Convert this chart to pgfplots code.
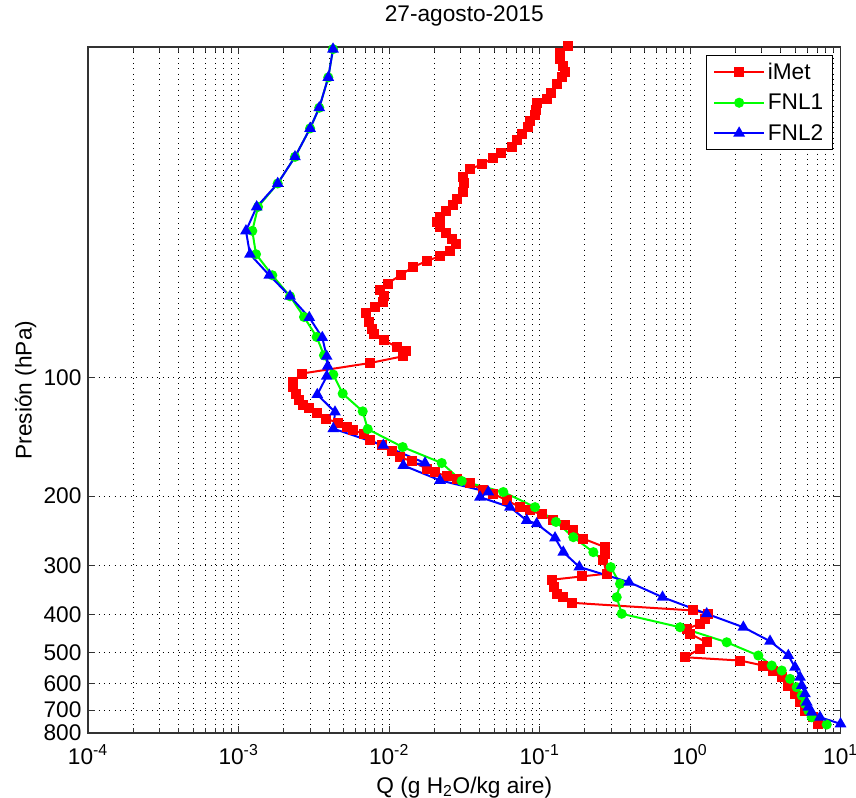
\documentclass[border=0pt]{standalone}
\usepackage{fontspec}
\setmainfont{Liberation Sans}
\usepackage{pgfplots}
\pgfplotsset{compat=1.18}
\usepackage{pgfplotstable}

% Specific humidity Q (g H2O / kg air) against pressure (hPa)
\pgfplotstableread{
q p
0.1554 14.34
0.1368 14.91
0.1368 15.50
0.1426 16.12
0.1477 16.67
0.1404 17.23
0.1301 17.91
0.1187 18.85
0.1116 19.60
0.09670 20.06
0.09478 20.86
0.09335 21.48
0.08648 22.25
0.08426 23.09
0.07614 24.06
0.07055 24.87
0.06536 25.86
0.05548 26.89
0.04887 27.69
0.04129 28.63
0.03453 29.53
0.03116 30.84
0.03150 32.06
0.03116 33.67
0.02818 35.21
0.02650 36.40
0.02392 37.64
0.02183 38.97
0.02094 40.14
0.02183 41.47
0.02392 42.96
0.02610 44.50
0.02788 45.74
0.02543 47.58
0.02183 49.07
0.01797 50.39
0.01450 52.26
0.01201 54.70
0.00980 57.59
0.008714 59.66
0.009264 62.04
0.009165 64.15
0.008072 66.05
0.007034 68.42
0.007398 72.11
0.007674 74.96
0.007950 77.50
0.009264 80.29
0.01125 83.49
0.01297 85.47
0.01233 88.19
0.007478 91.70
0.002630 97.56
0.002292 102.5
0.002313 105.5
0.002410 109.7
0.002535 114.1
0.002696 117.5
0.002954 119.1
0.003308 122.9
0.003815 127.0
0.004605 130.3
0.005236 133.4
0.005738 135.5
0.006823 139.2
0.007478 144.2
0.008944 148.5
0.01042 153.6
0.01183 159.4
0.01415 162.8
0.01780 170.2
0.02021 173.7
0.02417 178.1
0.02818 180.5
0.03453 185.2
0.04233 193.3
0.04932 197.1
0.06054 205.0
0.07420 213.2
0.08648 217.4
0.1034 222.5
0.1235 230.5
0.1477 237.3
0.1677 244.3
0.1954 256.5
0.2724 269.5
0.2724 280.1
0.2654 291.3
0.2796 314.9
0.1907 319.9
0.1205 326.2
0.1249 340.7
0.1301 354.1
0.1439 361.3
0.1637 373.3
1.052 390.5
1.323 398.1
1.258 410.0
1.165 422.2
0.9508 434.8
1.000 447.7
1.291 470.3
1.165 488.8
0.9264 513.4
2.149 523.4
3.069 539.0
3.577 555.0
4.068 577.2
4.499 605.9
4.985 636.1
5.382 668.1
5.808 701.5
6.596 729.5
7.120 758.3
}\imet

\pgfplotstableread{
q p
0.004246 14.6
0.003950 17.23
0.003440 20.58
0.002990 23.22
0.002374 27.43
0.001822 32.06
0.001348 36.77
0.001235 42.31
0.001307 48.51
0.001677 54.86
0.002199 62.04
0.002724 70.04
0.003308 78.75
0.003699 87.67
0.004265 98.14
0.004924 109.7
0.006687 121.7
0.007220 135.0
0.01233 150.0
0.02240 164.7
0.03042 183.0
0.05747 195.2
0.09335 213.2
0.1287 232.5
0.1677 254.2
0.2278 277.5
0.2973 302.9
0.3426 334.0
0.3258 361.3
0.3517 398.1
0.8584 430.7
1.753 470.3
2.844 508.3
3.490 539.0
4.068 555.0
4.618 582.7
5.117 612.0
5.524 642.5
5.808 674.5
6.109 701.5
6.436 729.5
8.097 761.5
}\fnla

\pgfplotstableread{
q p
0.004246 14.6
0.003950 17.23
0.003440 20.58
0.002990 23.22
0.002374 27.43
0.001822 32.06
0.001321 36.77
0.001121 42.31
0.001192 48.51
0.001602 54.86
0.002199 62.04
0.002954 70.28
0.003604 79.02
0.003855 88.19
0.003915 93.47
0.003855 99.13
0.003339 110.3
0.004378 122.2
0.004265 134.7
0.009165 148.5
0.01735 164.7
0.01245 167.0
0.02183 182.3
0.04568 195.2
0.04024 201.1
0.06368 213.2
0.08222 230.5
0.09580 235.0
0.1268 255.3
0.1439 277.5
0.1839 302.6
0.3933 330.8
0.6566 361.3
1.291 398.1
2.261 430.7
3.401 467.5
4.499 508.3
4.985 544.4
5.382 577.2
5.524 605.9
5.808 636.1
5.962 668.1
6.109 688.1
6.436 708.5
7.307 729.5
10.0 758.3
}\fnlb

\begin{document}
\begin{tikzpicture}[font=\fontsize{17}{20.4}\selectfont]
\path[use as bounding box] (-66pt,-48.75pt) rectangle (576pt,549.75pt);
\begin{axis}[
  at={(0pt,0pt)}, anchor=south west,
  scale only axis, width=564.4pt, height=514.5pt,
  xmode=log, ymode=log, y dir=reverse,
  xmin=1e-4, xmax=10, ymin=14.42, ymax=800,
  clip=false,
  axis line style={black!80, line width=1pt},
  tick align=inside,
  major tick length=5.5pt, minor tick length=4pt,
  tick style={black!80, line width=0.75pt},
  xtick={1e-4,1e-3,1e-2,1e-1,1,10},
  xticklabels={10\textsuperscript{-4},10\textsuperscript{-3},10\textsuperscript{-2},10\textsuperscript{-1},10\textsuperscript{0},10\textsuperscript{1}},
  minor xtick={2e-4,3e-4,4e-4,5e-4,6e-4,7e-4,8e-4,9e-4,
               2e-3,3e-3,4e-3,5e-3,6e-3,7e-3,8e-3,9e-3,
               2e-2,3e-2,4e-2,5e-2,6e-2,7e-2,8e-2,9e-2,
               0.2,0.3,0.4,0.5,0.6,0.7,0.8,0.9,
               2,3,4,5,6,7,8,9},
  ytick={100,200,300,400,500,600,700,800},
  yticklabels={100,200,300,400,500,600,700,800},
  minor ytick={},
  xmajorgrids, xminorgrids, ymajorgrids,
  grid style={black, line width=0.7pt, dash pattern=on 0.7pt off 3.3pt},
  minor grid style={black, line width=0.7pt, dash pattern=on 0.7pt off 3.3pt},
  xticklabel style={anchor=base, yshift=-23.25pt},
  yticklabel style={anchor=east, inner sep=0pt, xshift=-4.7pt},
  title={27-agosto-2015},
  title style={at={(axis description cs:0.5,1)}, anchor=base, yshift=13.5pt},
  xlabel={Q (g H\textsubscript{2}O/kg aire)},
  xlabel style={at={(axis description cs:0.5,0)}, anchor=base, yshift=-45pt},
  ylabel={Presión (hPa)},
  ylabel style={at={(axis description cs:-0.0748,0.5)}, anchor=base},
  legend cell align=left,
  legend image code/.code={\draw[#1, mark repeat=2, mark phase=2] plot coordinates {(0pt,0pt) (18.75pt,0pt) (37.5pt,0pt)};},
  legend style={at={(axis description cs:1,1)}, anchor=north east,
    xshift=-5.6pt, yshift=-6pt, draw=black, line width=0.75pt, fill=white,
    inner xsep=5pt, inner ysep=3.5pt, row sep=5.5pt,
    nodes={inner sep=2pt},
    /tikz/every even column/.append style={column sep=1.5pt}},
]
\addplot[red, line width=1.5pt, mark=square*, mark size=3pt, mark options={solid, fill=red}] table[x=q, y=p] {\imet};
\addlegendentry{iMet}
\addplot[green, line width=1.5pt, mark=*, mark size=3pt, mark options={solid, fill=green}] table[x=q, y=p] {\fnla};
\addlegendentry{FNL1}
\addplot[blue, line width=1.5pt, mark=triangle*, mark size=3.6pt, mark options={solid, fill=blue}] table[x=q, y=p] {\fnlb};
\addlegendentry{FNL2}
\end{axis}
\end{tikzpicture}
\end{document}
